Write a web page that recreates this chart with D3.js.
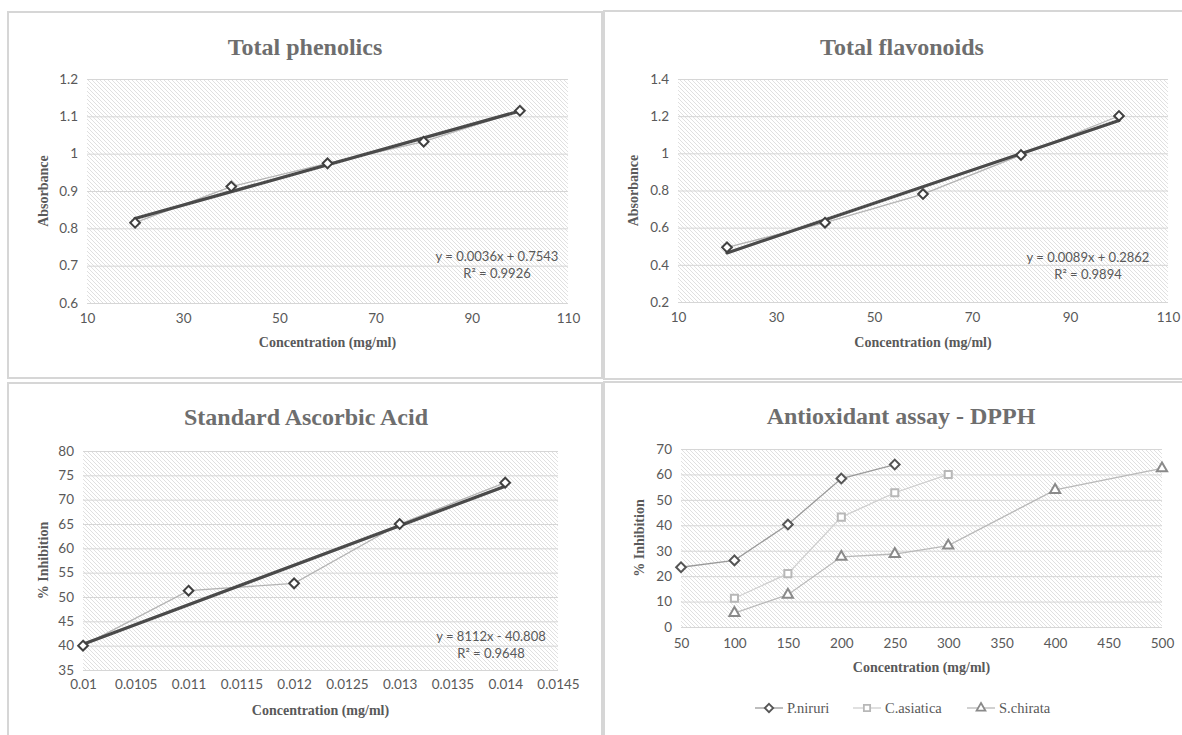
<!DOCTYPE html>
<html><head><meta charset="utf-8">
<script src="https://cdn.jsdelivr.net/npm/d3@7/dist/d3.min.js"></script>
<style>body{margin:0;background:#fff}svg{display:block}</style>
</head><body><svg id="c" width="1182" height="735"></svg>
<script>
// ---------- DATA ----------
const phenolConc = [20, 40, 60, 80, 100];
const phenolAbs = [0.815, 0.912, 0.974, 1.032, 1.115];
const phenolTrend = [0.0036, 0.7543]; // slope, intercept
const phenolEq = ["y = 0.0036x + 0.7543", "R² = 0.9926"];
const phenolXTicks = [10, 30, 50, 70, 90, 110];
const phenolYTicks = [0.6, 0.7, 0.8, 0.9, 1, 1.1, 1.2];
const phenolYLabels = ["0.6", "0.7", "0.8", "0.9", "1", "1.1", "1.2"];

const flavConc = [20, 40, 60, 80, 100];
const flavAbs = [0.494, 0.627, 0.781, 0.991, 1.201];
const flavTrend = [0.0089, 0.2862];
const flavEq = ["y = 0.0089x + 0.2862", "R² = 0.9894"];
const flavXTicks = [10, 30, 50, 70, 90, 110];
const flavYTicks = [0.2, 0.4, 0.6, 0.8, 1, 1.2, 1.4];
const flavYLabels = ["0.2", "0.4", "0.6", "0.8", "1", "1.2", "1.4"];

const ascConc = [0.010, 0.011, 0.012, 0.013, 0.014];
const ascInhib = [40.0, 51.3, 52.8, 65.0, 73.5];
const ascTrend = [8112, -40.808];
const ascEq = ["y = 8112x - 40.808", "R² = 0.9648"];
const ascXTicks = [0.01, 0.0105, 0.011, 0.0115, 0.012, 0.0125, 0.013, 0.0135, 0.014, 0.0145];
const ascXLabels = ["0.01", "0.0105", "0.011", "0.0115", "0.012", "0.0125", "0.013", "0.0135", "0.014", "0.0145"];
const ascYTicks = [35, 40, 45, 50, 55, 60, 65, 70, 75, 80];

const dpphXTicks = [50, 100, 150, 200, 250, 300, 350, 400, 450, 500];
const dpphYTicks = [0, 10, 20, 30, 40, 50, 60, 70];
const nirConc = [50, 100, 150, 200, 250];
const nirInhib = [23.5, 26.2, 40.3, 58.4, 63.9];
const asiConc = [100, 150, 200, 250, 300];
const asiInhib = [11.3, 21.0, 43.2, 52.8, 60.0];
const chiConc = [100, 150, 200, 250, 300, 400, 500];
const chiInhib = [5.5, 12.7, 27.6, 28.7, 32.0, 53.9, 62.4];
const dpphNames = ["P.niruri", "C.asiatica", "S.chirata"];

// ---------- DRAWING ----------
const svg = d3.select("#c");
const defs = svg.append("defs");
const pat = defs.append("pattern").attr("id", "hatch").attr("patternUnits", "userSpaceOnUse")
  .attr("width", 4).attr("height", 4);
pat.append("rect").attr("width", 4).attr("height", 4).attr("fill", "#ffffff");
pat.append("path").attr("d", "M-1,-1 L5,5 M3,-1 L5,1 M-1,3 L1,5")
  .attr("stroke", "#e0e0e0").attr("stroke-width", 1);

const TXT = "#595959";
const SANS = "Lato, 'Open Sans', sans-serif";
const SERIF = "'Liberation Serif', 'Times New Roman', serif";

function markerPath(type, size) {
  const sym = type === "diamond" ? d3.symbolDiamond2 : type === "square" ? d3.symbolSquare2 : d3.symbolTriangle2;
  return d3.symbol().type(sym).size(size)();
}

function panel(o) {
  const g = svg.append("g");
  g.append("rect").attr("x", o.box[0]).attr("y", o.box[1]).attr("width", o.box[2]).attr("height", o.box[3])
    .attr("fill", "#fff").attr("stroke", "#d6d6d6").attr("stroke-width", 2);
  const x = d3.scaleLinear().domain(o.xDomain).range([o.plot.l, o.plot.r]);
  const y = d3.scaleLinear().domain(o.yDomain).range([o.plot.b, o.plot.t]);
  g.append("rect").attr("x", o.plot.l).attr("y", o.plot.t).attr("width", o.plot.r - o.plot.l)
    .attr("height", o.plot.b - o.plot.t).attr("fill", "url(#hatch)");
  const grid = g.append("g").attr("transform", `translate(${o.plot.l},0)`)
    .call(d3.axisLeft(y).tickValues(o.yTicks).tickSize(-(o.plot.r - o.plot.l)).tickFormat(""));
  grid.select(".domain").remove();
  grid.selectAll("line").attr("stroke", "#d6d6d6").attr("stroke-width", 1);
  const ya = g.append("g").attr("transform", `translate(${o.plot.l - 9},0)`)
    .call(d3.axisLeft(y).tickValues(o.yTicks).tickSize(0)
      .tickFormat((d, i) => o.yLabels ? o.yLabels[i] : d));
  ya.select(".domain").remove();
  ya.selectAll("text").attr("fill", TXT).attr("font-family", SANS).attr("font-size", 13.5).attr("x", 0);
  const xa = g.append("g").attr("transform", `translate(0,${o.plot.b + o.xLabOff - 9})`)
    .call(d3.axisBottom(x).tickValues(o.xTicks).tickSize(0)
      .tickFormat((d, i) => o.xLabels ? o.xLabels[i] : d));
  xa.select(".domain").remove();
  xa.selectAll("text").attr("fill", TXT).attr("font-family", SANS).attr("font-size", 13.5).attr("y", 0).attr("dy", "0.71em");
  g.append("text").attr("x", o.titlePos[0]).attr("y", o.titlePos[1]).attr("text-anchor", "middle")
    .attr("font-family", SERIF).attr("font-weight", "bold").attr("font-size", 24).attr("fill", "#6e6e6e")
    .text(o.title);
  g.append("text").attr("x", (o.plot.l + o.plot.r) / 2).attr("y", o.xTitleY).attr("text-anchor", "middle")
    .attr("font-family", SERIF).attr("font-weight", "bold").attr("font-size", 14).attr("fill", TXT)
    .text("Concentration (mg/ml)");
  g.append("text").attr("transform", `translate(${o.yTitleX},${(o.plot.t + o.plot.b) / 2}) rotate(-90)`)
    .attr("text-anchor", "middle").attr("font-family", SERIF).attr("font-weight", "bold")
    .attr("font-size", 14).attr("fill", TXT).text(o.yTitle);

  const line = d3.line().x(d => x(d[0])).y(d => y(d[1]));
  o.series.forEach(s => {
    const pts = s.x.map((v, i) => [v, s.y[i]]);
    g.append("path").attr("d", line(pts)).attr("fill", "none")
      .attr("stroke", s.lineColor).attr("stroke-width", 1.3);
  });
  if (o.trend) {
    const s = o.series[0];
    const x0 = d3.min(s.x), x1 = d3.max(s.x);
    const tp = [[x0, o.trend[0] * x0 + o.trend[1]], [x1, o.trend[0] * x1 + o.trend[1]]];
    g.append("path").attr("d", line(tp)).attr("fill", "none").attr("stroke", "#4a4a4a")
      .attr("stroke-width", 3.2).attr("stroke-linecap", "round");
  }
  o.series.forEach(s => {
    g.selectAll(null).data(s.x.map((v, i) => [v, s.y[i]])).join("path")
      .attr("d", markerPath(s.marker, s.size))
      .attr("transform", d => `translate(${x(d[0])},${y(d[1])})`)
      .attr("fill", "#fff").attr("stroke", s.markerColor).attr("stroke-width", 2);
  });
  if (o.eq) {
    o.eq.forEach((t, i) => {
      g.append("text").attr("x", o.eqPos[0]).attr("y", o.eqPos[1] + i * 17).attr("text-anchor", "middle")
        .attr("dy", "0.35em").attr("font-family", SANS).attr("font-size", 13).attr("fill", TXT).text(t);
    });
  }
  return { x, y, g };
}

panel({
  box: [8, 12, 594, 366], plot: { l: 87, r: 568, t: 79, b: 303 },
  xDomain: [10, 110], yDomain: [0.6, 1.2], xTicks: phenolXTicks, yTicks: phenolYTicks, yLabels: phenolYLabels,
  xLabOff: 19, titlePos: [305, 55], title: "Total phenolics", xTitleY: 347, yTitleX: 48, yTitle: "Absorbance",
  series: [{ x: phenolConc, y: phenolAbs, marker: "diamond", size: 60, lineColor: "#b4b4b4", markerColor: "#404040" }],
  trend: phenolTrend, eq: phenolEq, eqPos: [497, 256]
});

panel({
  box: [604, 11, 600, 368], plot: { l: 678, r: 1168, t: 79, b: 302 },
  xDomain: [10, 110], yDomain: [0.2, 1.4], xTicks: flavXTicks, yTicks: flavYTicks, yLabels: flavYLabels,
  xLabOff: 19, titlePos: [902, 55], title: "Total flavonoids", xTitleY: 347, yTitleX: 638, yTitle: "Absorbance",
  series: [{ x: flavConc, y: flavAbs, marker: "diamond", size: 60, lineColor: "#b4b4b4", markerColor: "#404040" }],
  trend: flavTrend, eq: flavEq, eqPos: [1088, 257]
});

panel({
  box: [8, 383, 594, 370], plot: { l: 83, r: 558, t: 451, b: 670 },
  xDomain: [0.01, 0.0145], yDomain: [35, 80], xTicks: ascXTicks, xLabels: ascXLabels, yTicks: ascYTicks,
  xLabOff: 18, titlePos: [306, 425], title: "Standard Ascorbic Acid", xTitleY: 715, yTitleX: 48, yTitle: "% Inhibition",
  series: [{ x: ascConc, y: ascInhib, marker: "diamond", size: 60, lineColor: "#b4b4b4", markerColor: "#404040" }],
  trend: ascTrend, eq: ascEq, eqPos: [491, 636]
});

panel({
  box: [604, 382, 600, 370], plot: { l: 681, r: 1162, t: 449, b: 627 },
  xDomain: [50, 500], yDomain: [0, 70], xTicks: dpphXTicks, yTicks: dpphYTicks,
  xLabOff: 20, titlePos: [901, 424], title: "Antioxidant assay - DPPH", xTitleY: 672, yTitleX: 644, yTitle: "% Inhibition",
  series: [
    { x: nirConc, y: nirInhib, marker: "diamond", size: 60, lineColor: "#9a9a9a", markerColor: "#555555" },
    { x: asiConc, y: asiInhib, marker: "square", size: 64, lineColor: "#cfcfcf", markerColor: "#b8b8b8" },
    { x: chiConc, y: chiInhib, marker: "triangle", size: 75, lineColor: "#b9b9b9", markerColor: "#8a8a8a" }
  ]
});

const legStyles = [
  { marker: "diamond", size: 45, lineColor: "#9a9a9a", markerColor: "#555555" },
  { marker: "square", size: 50, lineColor: "#cfcfcf", markerColor: "#b8b8b8" },
  { marker: "triangle", size: 55, lineColor: "#b9b9b9", markerColor: "#8a8a8a" }
];
const legX = [755, 853, 967];
const legY = 708;
dpphNames.forEach((name, i) => {
  const s = legStyles[i];
  const lg = svg.append("g").attr("transform", `translate(${legX[i]},${legY})`);
  lg.append("line").attr("x1", 0).attr("x2", 28).attr("stroke", s.lineColor).attr("stroke-width", 1.3);
  lg.append("path").attr("d", markerPath(s.marker, s.size)).attr("transform", "translate(14,0)")
    .attr("fill", "#fff").attr("stroke", s.markerColor).attr("stroke-width", 1.8);
  lg.append("text").attr("x", 32).attr("dy", "0.35em").attr("font-family", SERIF).attr("font-size", 14.5)
    .attr("fill", TXT).text(name);
});
</script></body></html>
